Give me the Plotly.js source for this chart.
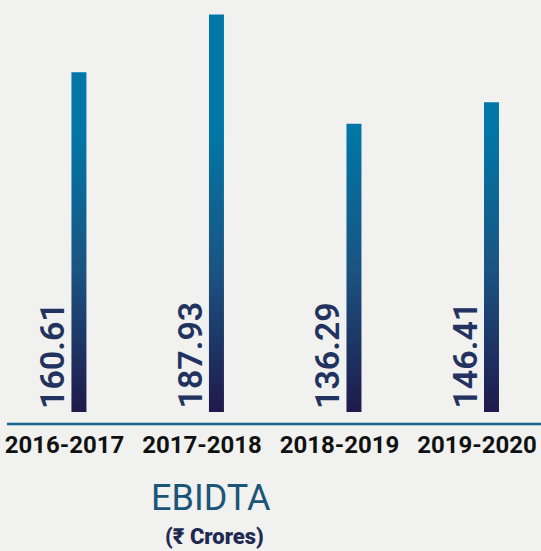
<!DOCTYPE html>
<html>
<head>
<meta charset="utf-8">
<script src="https://cdn.plot.ly/plotly-3.0.1.min.js"></script>
<style>
  html, body { margin: 0; padding: 0; background: #f1f1ef; }
  #chart { width: 541px; height: 551px; }
</style>
</head>
<body>
<div id="chart"></div>
<script>
const categories = ["2016-2017", "2017-2018", "2018-2019", "2019-2020"];
const ebidta = [160.61, 187.93, 136.29, 146.41];
const valueLabels = ["160.61", "187.93", "136.29", "146.41"];
const chartTitle = "EBIDTA";
const chartSubtitle = "(₹ Crores)";

const barTrace = {
  type: "bar",
  x: categories,
  y: ebidta,
  width: 0.109,
  offset: 0.0505,
  marker: { color: "#0077a6", line: { width: 0 } },
  hoverinfo: "skip"
};

const annotations = categories.map((c, i) => ({
  x: c, y: 0, xref: "x", yref: "y",
  text: valueLabels[i],
  textangle: -90,
  showarrow: false,
  xanchor: "center", yanchor: "bottom",
  xshift: -13, yshift: 1,
  font: { family: "Roboto, sans-serif", size: 34, color: "#22335f", weight: 600 }
}));

annotations.push({
  xref: "paper", yref: "paper", x: 211 / 541, y: -0.175,
  text: chartTitle, showarrow: false, xanchor: "center", yanchor: "middle",
  font: { family: "Roboto, sans-serif", size: 36, color: "#1b5578" }
});
annotations.push({
  xref: "paper", yref: "paper", x: 214 / 541, y: -0.266,
  text: chartSubtitle, showarrow: false, xanchor: "center", yanchor: "middle",
  font: { family: "Roboto, 'Noto Sans', sans-serif", size: 22, color: "#1f2a52", weight: 900 }
});

const layout = {
  width: 541, height: 551,
  margin: { l: 0, r: 0, t: 0, b: 127, pad: 0 },
  paper_bgcolor: "#f1f1ef",
  plot_bgcolor: "rgba(0,0,0,0)",
  showlegend: false,
  xaxis: {
    type: "category",
    range: [-0.469, 3.465],
    showgrid: false, zeroline: false, showline: false,
    ticks: "", ticklabelstandoff: 4,
    tickfont: { family: "Roboto, sans-serif", size: 24, color: "#111111", weight: 700 },
    fixedrange: true
  },
  yaxis: {
    range: [-5.674, 194.8],
    visible: false, showgrid: false, zeroline: false,
    fixedrange: true
  },
  shapes: [{
    type: "line", xref: "paper", yref: "paper",
    x0: 7 / 541, x1: 1, y0: 0, y1: 0,
    line: { color: "#1b6690", width: 2.5 }
  }],
  annotations: annotations
};

Plotly.newPlot("chart", [barTrace], layout, { displayModeBar: false, staticPlot: true }).then(gd => {
  const svg = gd.querySelector("svg.main-svg");
  const NS = "http://www.w3.org/2000/svg";
  let defs = svg.querySelector("defs");
  if (!defs) { defs = document.createElementNS(NS, "defs"); svg.insertBefore(defs, svg.firstChild); }
  const grad = document.createElementNS(NS, "linearGradient");
  grad.setAttribute("id", "barGrad");
  grad.setAttribute("gradientUnits", "userSpaceOnUse");
  grad.setAttribute("x1", "0"); grad.setAttribute("x2", "0");
  grad.setAttribute("y1", "130"); grad.setAttribute("y2", "412");
  [["0", "#0077a6"], ["0.5", "#1b5381"], ["1", "#1f1a4b"]].forEach(([o, c]) => {
    const s = document.createElementNS(NS, "stop");
    s.setAttribute("offset", o); s.setAttribute("stop-color", c);
    grad.appendChild(s);
  });
  defs.appendChild(grad);
  gd.querySelectorAll(".barlayer .point path").forEach(p => { p.style.fill = "url(#barGrad)"; });
});
</script>
</body>
</html>
